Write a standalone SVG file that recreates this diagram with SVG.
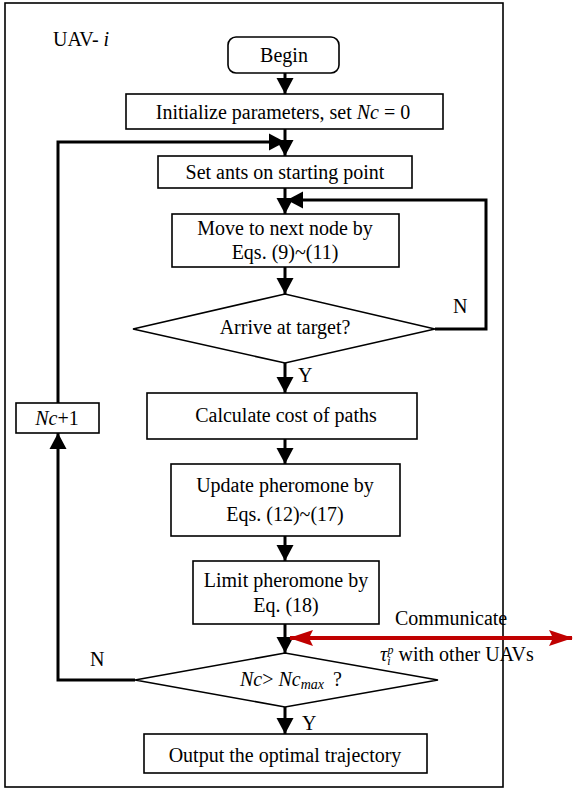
<svg xmlns="http://www.w3.org/2000/svg" width="574" height="790" viewBox="0 0 574 790">
<style>
text{font-family:"Liberation Serif","Times New Roman",serif;font-size:20px;fill:#000}
.c{text-anchor:middle}
.box{fill:#fff;stroke:#000;stroke-width:1.6}
.ln{fill:none;stroke:#000;stroke-width:3}
.red{fill:none;stroke:#c00000;stroke-width:4}
</style>
<defs>
<marker id="ah" markerUnits="userSpaceOnUse" markerWidth="16" markerHeight="18" viewBox="0 0 16 18" refX="16" refY="9" orient="auto">
<path d="M0,0.5 L16,9 L0,17.5 Z" fill="#000"/>
</marker>
<marker id="rh" markerUnits="userSpaceOnUse" markerWidth="24" markerHeight="18" viewBox="0 0 24 18" refX="23" refY="9" orient="auto-start-reverse">
<path d="M0,1 L24,9 L0,17 L4,9 Z" fill="#c00000"/>
</marker>
</defs>
<rect x="5" y="3" width="498" height="784" fill="none" stroke="#000" stroke-width="1.6"/>
<text x="53" y="46">UAV- <tspan font-style="italic">i</tspan></text>
<g id="connectors">
<line class="ln" x1="285" y1="73" x2="285" y2="94" marker-end="url(#ah)"/>
<line class="ln" x1="285" y1="129" x2="285" y2="156" marker-end="url(#ah)"/>
<line class="ln" x1="285" y1="188" x2="285" y2="214" marker-end="url(#ah)"/>
<line class="ln" x1="285" y1="267" x2="285" y2="294" marker-end="url(#ah)"/>
<line class="ln" x1="285" y1="363" x2="285" y2="393" marker-end="url(#ah)"/>
<line class="ln" x1="285" y1="439" x2="285" y2="464" marker-end="url(#ah)"/>
<line class="ln" x1="285" y1="536" x2="285" y2="561" marker-end="url(#ah)"/>
<line class="ln" x1="285" y1="624" x2="285" y2="653" marker-end="url(#ah)"/>
<line class="ln" x1="285" y1="707" x2="285" y2="734" marker-end="url(#ah)"/>
<polyline class="ln" points="435,329 486,329 486,200 287,200" marker-end="url(#ah)"/>
<polyline class="ln" points="58,403 58,142 285,142" marker-end="url(#ah)"/>
<polyline class="ln" points="135,680 58,680 58,433" marker-end="url(#ah)"/>
<line class="red" x1="290" y1="638" x2="572" y2="638" marker-start="url(#rh)" marker-end="url(#rh)"/>
</g>
<g id="begin"><rect class="box" x="228" y="37" width="111" height="36" rx="8"/><text class="c" x="284" y="62">Begin</text></g>
<g id="init"><rect class="box" x="126" y="94" width="317" height="35"/><text class="c" x="283" y="119">Initialize parameters, set <tspan font-style="italic">Nc</tspan> = 0</text></g>
<g id="setants"><rect class="box" x="158" y="156" width="254" height="32"/><text class="c" x="285" y="179">Set ants on starting point</text></g>
<g id="move"><rect class="box" x="172" y="214" width="227" height="53"/><text class="c" x="285" y="235">Move to next node by</text><text class="c" x="285" y="259">Eqs. (9)~(11)</text></g>
<g id="arrive"><polygon class="box" points="133,329 285,294 435,329 285,363"/><text class="c" x="285" y="334">Arrive at target?</text></g>
<g id="calc"><rect class="box" x="147" y="393" width="270" height="46"/><text class="c" x="286" y="422">Calculate cost of paths</text></g>
<g id="update"><rect class="box" x="171" y="464" width="229" height="72"/><text class="c" x="285" y="492">Update pheromone by</text><text class="c" x="285" y="521">Eqs. (12)~(17)</text></g>
<g id="limit"><rect class="box" x="193" y="561" width="186" height="63"/><text class="c" x="286" y="587">Limit pheromone by</text><text class="c" x="286" y="612">Eq. (18)</text></g>
<g id="check"><polygon class="box" points="135,680 285,653 438,680 285,707"/><text class="c" x="291" y="686"><tspan font-style="italic">Nc</tspan>&gt; <tspan font-style="italic">Nc</tspan><tspan font-style="italic" font-size="14" dy="3">max</tspan><tspan dx="9" dy="-3">?</tspan></text></g>
<g id="output"><rect class="box" x="144" y="734" width="283" height="39"/><text class="c" x="285" y="762">Output the optimal trajectory</text></g>
<g id="ncplus"><rect class="box" x="16" y="403" width="83" height="30"/><text class="c" x="57" y="425"><tspan font-style="italic">Nc</tspan>+1</text></g>
<g id="labels">
<text x="453" y="313">N</text>
<text x="298" y="382">Y</text>
<text x="90" y="666">N</text>
<text x="302" y="730">Y</text>
<text x="395" y="625">Communicate</text>
<text x="380" y="661"><tspan font-style="italic">τ</tspan><tspan font-style="italic" font-size="12" dy="4">i</tspan><tspan font-style="italic" font-size="12" dx="-3" dy="-11">p</tspan><tspan dy="7"> with other UAVs</tspan></text>
</g>
</svg>
